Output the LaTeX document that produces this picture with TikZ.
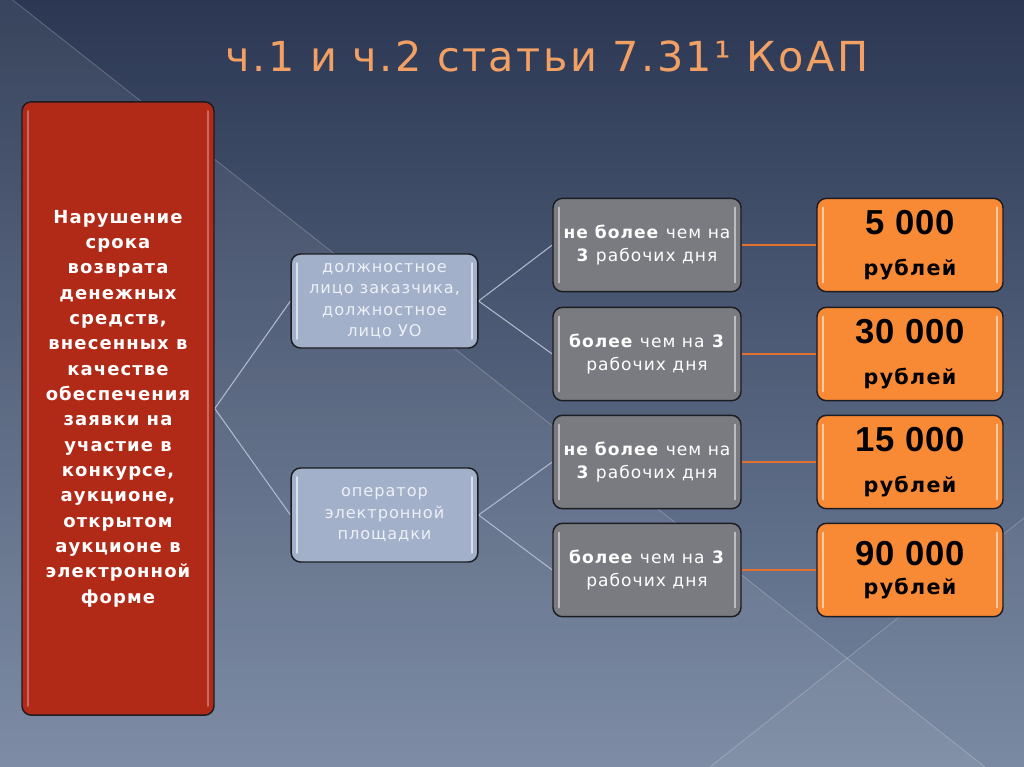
\documentclass[tikz,border=0pt]{standalone}
\usepackage{fontspec}
\setmainfont{DejaVu Sans}[LetterSpace=6]
\newfontfamily\numfont{Liberation Sans}[LetterSpace=2]
\usetikzlibrary{backgrounds}
\pgfdeclarelayer{bg}
\pgfdeclarelayer{lines}
\pgfsetlayers{bg,lines,main}
\definecolor{bgtop}{HTML}{2C3853}
\definecolor{bgbot}{HTML}{7686A0}
\definecolor{redbox}{HTML}{B12A18}
\definecolor{bluebox}{HTML}{A3B0CA}
\definecolor{greybox}{HTML}{7A7B80}
\definecolor{orangebox}{HTML}{F88A36}
\definecolor{boxline}{HTML}{1C1C22}
\definecolor{linkc}{HTML}{AEB9CC}
\definecolor{orlink}{HTML}{E2702E}
\definecolor{titlec}{HTML}{F2A063}
\definecolor{bluetext}{HTML}{ECF0F7}
\tikzset{
  gloss/.style={path picture={
    \draw[white,opacity=#1,line width=1.8pt,line cap=round]
      ([xshift=4.5pt,yshift=-7pt]path picture bounding box.north west) --
      ([xshift=4.5pt,yshift=7pt]path picture bounding box.south west)
      ([xshift=-4.5pt,yshift=-7pt]path picture bounding box.north east) --
      ([xshift=-4.5pt,yshift=7pt]path picture bounding box.south east);}},
  box/.style={rounded corners=7pt, draw=boxline, line width=1.1pt, inner sep=0pt,
    align=center},
  redst/.style={box, fill=redbox, gloss=0.3, minimum width=144pt, minimum height=460pt,
    text=white, font=\fontsize{13.5}{19}\selectfont\bfseries},
  bluest/.style={box, fill=bluebox, gloss=0.6,
    minimum width=140pt, minimum height=70.5pt, text=bluetext,
    font=\fontsize{12.1}{16.1}\selectfont},
  greyst/.style={box, fill=greybox, gloss=0.5,
    minimum width=141pt, minimum height=70pt, text=white,
    font=\fontsize{12.8}{17.5}\selectfont},
  orst/.style={box, fill=orangebox, gloss=0.55, minimum width=139.5pt, minimum height=70pt,
    text=black, font=\fontsize{15.5}{18}\selectfont\bfseries},
  link/.style={draw=linkc, line width=0.8pt},
  olink/.style={draw=orlink, line width=1.5pt},
}
\newcommand{\bignum}[1]{{\numfont\bfseries\fontsize{26}{26}\selectfont #1}}
\begin{document}
\begin{tikzpicture}[x=0.75pt,y=-0.75pt]
\useasboundingbox (0,0) rectangle (1024,767);
\begin{pgfonlayer}{bg}
\shade[top color=bgtop, bottom color=bgbot] (0,0) rectangle (1024,767);
\fill[white,opacity=0.06] (0,-10) -- (985,767) -- (0,767) -- cycle;
\fill[white,opacity=0.04] (710,767) -- (1024,518) -- (1024,767) -- cycle;
\draw[white,opacity=0.22,line width=0.6pt] (0,-10) -- (985,767);
\draw[white,opacity=0.22,line width=0.6pt] (710,767) -- (1024,518);
\end{pgfonlayer}

\node[text=titlec, font=\fontsize{31}{36}\selectfont] (title) at (547,56) {ч.1 и ч.2 статьи 7.31¹ КоАП};

\node[redst] (red) at (118,408.5) {Нарушение\\срока\\возврата\\денежных\\средств,\\внесенных в\\качестве\\обеспечения\\заявки на\\участие в\\конкурсе,\\аукционе,\\открытом\\аукционе в\\электронной\\форме};

\node[bluest] (b1) at (384.5,301) {должностное\\лицо заказчика,\\должностное\\лицо УО};
\node[bluest] (b2) at (384.5,515) {оператор\\электронной\\площадки};

\node[greyst] (g1) at (647,245) {\textbf{не более} чем на\\\textbf{3} рабочих дня};
\node[greyst] (g2) at (647,354) {\textbf{более} чем на \textbf{3}\\рабочих дня};
\node[greyst] (g3) at (647,462) {\textbf{не более} чем на\\\textbf{3} рабочих дня};
\node[greyst] (g4) at (647,570) {\textbf{более} чем на \textbf{3}\\рабочих дня};

\node[orst] (o1) at (910,245) {\bignum{5 000}\\[13pt]рублей};
\node[orst] (o2) at (910,354) {\bignum{30 000}\\[13pt]рублей};
\node[orst] (o3) at (910,462) {\bignum{15 000}\\[13pt]рублей};
\node[orst] (o4) at (910,570) {\bignum{90 000}\\[4pt]рублей};

\begin{pgfonlayer}{lines}
\draw[link] (red.east) -- (b1.west);
\draw[link] (red.east) -- (b2.west);
\draw[link] (b1.east) -- (g1.west);
\draw[link] (b1.east) -- (g2.west);
\draw[link] (b2.east) -- (g3.west);
\draw[link] (b2.east) -- (g4.west);
\draw[olink] (g1.east) -- (o1.west);
\draw[olink] (g2.east) -- (o2.west);
\draw[olink] (g3.east) -- (o3.west);
\draw[olink] (g4.east) -- (o4.west);
\end{pgfonlayer}
\end{tikzpicture}
\end{document}
